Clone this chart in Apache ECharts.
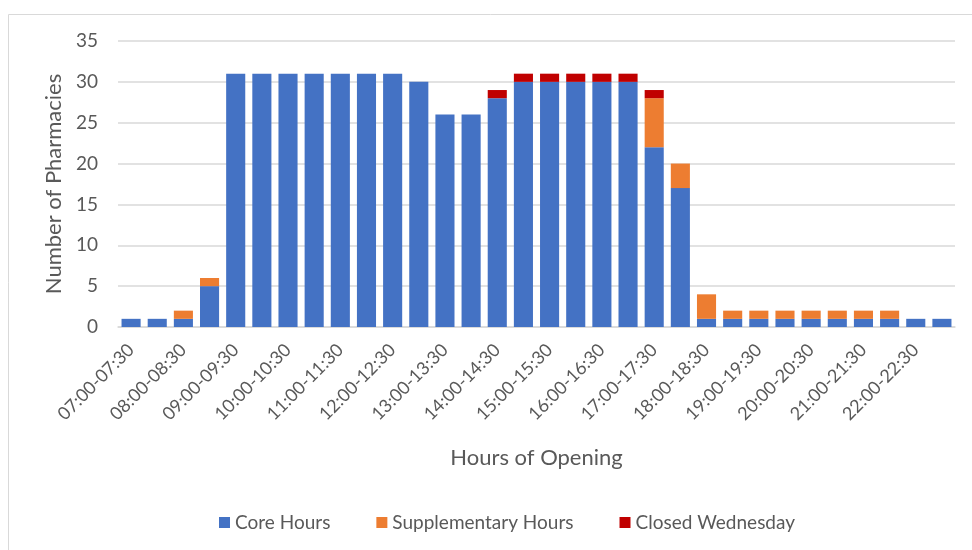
<!DOCTYPE html>
<html>
<head>
<meta charset="utf-8">
<script src="https://cdn.jsdelivr.net/npm/echarts@6/dist/echarts.min.js"></script>
<style>
  html, body { margin: 0; padding: 0; background: #fff; }
  #chart { width: 972px; height: 550px; }
</style>
</head>
<body>
<div id="chart"></div>
<script>
  // half-hour slots 07:00 - 23:00
  const slots = [
    '07:00-07:30', '07:30-08:00', '08:00-08:30', '08:30-09:00',
    '09:00-09:30', '09:30-10:00', '10:00-10:30', '10:30-11:00',
    '11:00-11:30', '11:30-12:00', '12:00-12:30', '12:30-13:00',
    '13:00-13:30', '13:30-14:00', '14:00-14:30', '14:30-15:00',
    '15:00-15:30', '15:30-16:00', '16:00-16:30', '16:30-17:00',
    '17:00-17:30', '17:30-18:00', '18:00-18:30', '18:30-19:00',
    '19:00-19:30', '19:30-20:00', '20:00-20:30', '20:30-21:00',
    '21:00-21:30', '21:30-22:00', '22:00-22:30', '22:30-23:00'
  ];
  const coreHours = [1, 1, 1, 5, 31, 31, 31, 31, 31, 31, 31, 30, 26, 26, 28, 30,
    30, 30, 30, 30, 22, 17, 1, 1, 1, 1, 1, 1, 1, 1, 1, 1];
  const suppHours = [0, 0, 1, 1, 0, 0, 0, 0, 0, 0, 0, 0, 0, 0, 0, 0,
    0, 0, 0, 0, 6, 3, 3, 1, 1, 1, 1, 1, 1, 1, 0, 0];
  const closedWed = [0, 0, 0, 0, 0, 0, 0, 0, 0, 0, 0, 0, 0, 0, 1, 1,
    1, 1, 1, 1, 1, 0, 0, 0, 0, 0, 0, 0, 0, 0, 0, 0];
  const yTicks = [0, 5, 10, 15, 20, 25, 30, 35];

  const font = 'Lato, "Open Sans", sans-serif';
  const textColor = '#595959';

  let myChart = echarts.init(document.getElementById('chart'));
  let option = {
    animation: false,
    color: ['#4472c4', '#ed7d31', '#c00000'],
    graphic: [{
      type: 'rect',
      shape: { x: 8.5, y: 14.5, width: 972, height: 560 },
      style: { fill: 'none', stroke: '#d9d9d9', lineWidth: 1 },
      silent: true
    }],
    grid: {
      left: 118,
      right: 17,
      top: 41,
      bottom: 223
    },
    legend: {
      bottom: 13,
      left: 214,
      itemWidth: 11,
      itemHeight: 11,
      itemGap: 46,
      icon: 'rect',
      textStyle: { color: textColor, fontSize: 19, fontFamily: font },
      data: ['Core Hours', 'Supplementary Hours', 'Closed Wednesday']
    },
    xAxis: {
      type: 'category',
      data: slots,
      name: 'Hours of Opening',
      nameLocation: 'middle',
      nameGap: 120,
      nameTextStyle: { color: textColor, fontSize: 22, fontFamily: font },
      axisLine: { lineStyle: { color: '#d9d9d9', width: 1.5 } },
      axisTick: { show: false },
      axisLabel: {
        interval: 1,
        rotate: 45,
        color: textColor,
        fontSize: 18,
        fontFamily: font,
        margin: 20
      }
    },
    yAxis: {
      type: 'value',
      min: yTicks[0],
      max: yTicks[yTicks.length - 1],
      interval: 5,
      name: 'Number of Pharmacies',
      nameLocation: 'middle',
      nameGap: 52,
      nameTextStyle: { color: textColor, fontSize: 22, fontFamily: font },
      axisLine: { show: false },
      axisTick: { show: false },
      axisLabel: { color: textColor, fontSize: 19, fontFamily: font, margin: 20 },
      splitLine: { lineStyle: { color: '#d9d9d9', width: 1.5 } }
    },
    series: [
      {
        name: 'Core Hours',
        type: 'bar',
        stack: 'total',
        barCategoryGap: '27%',
        data: coreHours
      },
      {
        name: 'Supplementary Hours',
        type: 'bar',
        stack: 'total',
        data: suppHours
      },
      {
        name: 'Closed Wednesday',
        type: 'bar',
        stack: 'total',
        data: closedWed
      }
    ]
  };
  myChart.setOption(option);
</script>
</body>
</html>
